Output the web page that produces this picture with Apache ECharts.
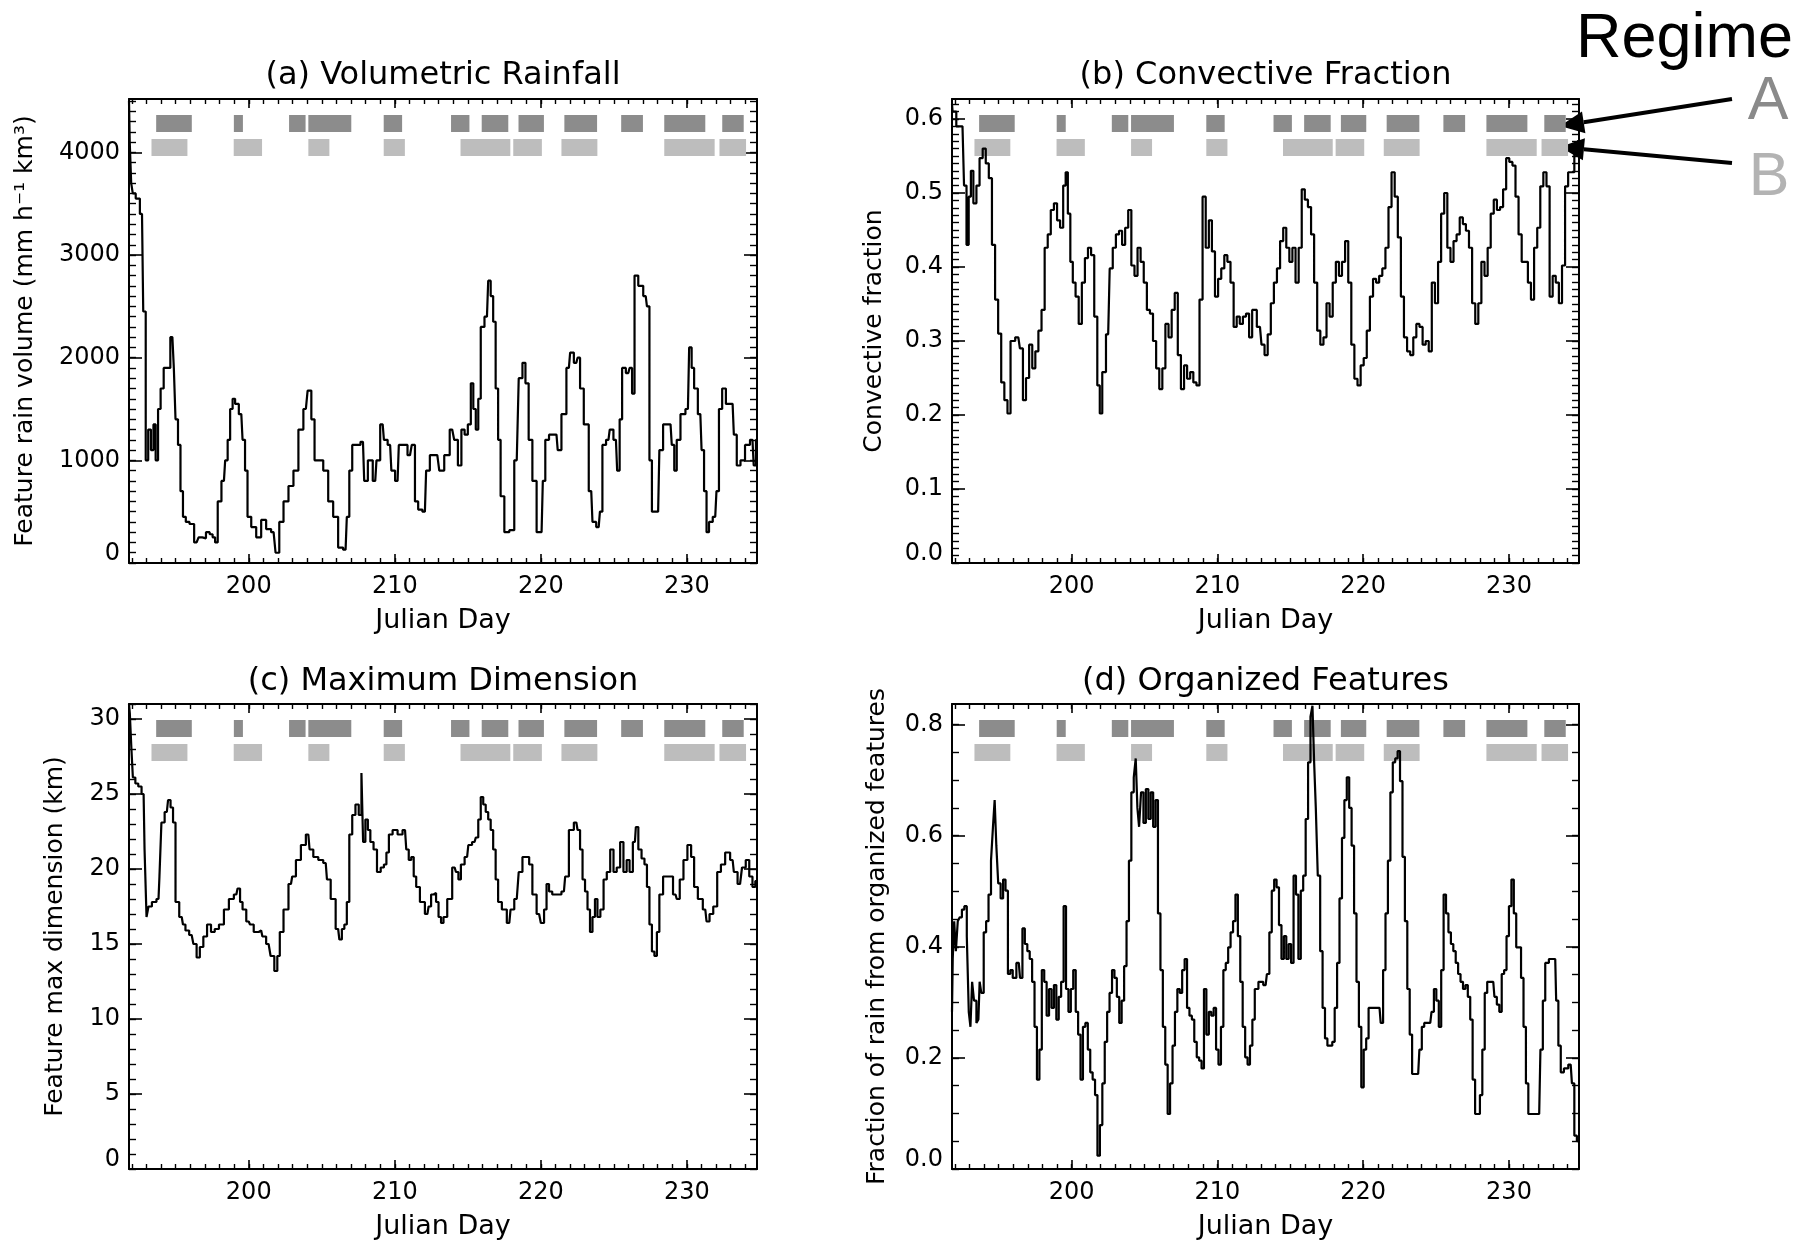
<!DOCTYPE html>
<html><head><meta charset="utf-8">
<script src="https://cdn.jsdelivr.net/npm/echarts@6/dist/echarts.min.js"></script>
<style>html,body{margin:0;padding:0;background:#fff;}#c{width:1810px;height:1242px;}</style>
</head><body><div id="c"></div>
<script>
// ---------------- DATA ----------------
const rainDays = [
191.8,191.9,192.0,192.12,192.4,192.69,192.86,193.03,193.2,193.4,
193.55,193.7,193.88,194.05,194.3,194.56,194.7,194.84,194.9,195.07,
195.24,195.41,195.58,195.8,196.09,196.43,196.7,196.94,197.2,197.45,
197.6,197.79,197.96,198.3,198.47,198.64,198.81,198.98,199.15,199.49,
199.66,199.83,200.0,200.34,200.68,201.02,201.36,201.7,201.97,202.21,
202.55,202.89,203.23,203.57,203.91,204.15,204.42,204.59,204.93,205.27,
205.61,205.95,206.29,206.63,206.8,206.97,207.2,207.48,207.82,207.99,
208.32,208.66,208.83,209.17,209.34,209.68,209.85,210.19,210.36,210.7,
211.04,211.28,211.48,211.72,212.06,212.23,212.57,212.91,213.18,213.59,
213.93,214.2,214.44,214.68,214.88,215.12,215.29,215.46,215.63,215.8,
215.97,216.31,216.48,216.65,216.82,216.99,217.16,217.33,217.67,218.01,
218.35,218.62,218.86,219.03,219.3,219.54,219.88,220.05,220.22,220.39,
220.73,221.07,221.24,221.58,221.92,222.09,222.43,222.6,222.77,223.11,
223.45,223.62,223.96,224.13,224.3,224.63,224.8,225.14,225.31,225.48,
225.65,225.99,226.16,226.33,226.5,226.84,227.18,227.35,227.52,227.69,
228.03,228.2,228.54,228.88,229.05,229.22,229.39,229.73,230.07,230.24,
230.41,230.58,230.92,231.09,231.26,231.43,231.6,231.94,232.11,232.28,
232.55,232.79,233.13,233.3,233.53,233.81,234.15,234.49,234.66,234.8];
const rainVals = [
4500,4100,3700,3600,3550,3400,2450,1000,1300,1100,
1350,1000,1500,1700,1900,1900,2200,2200,1900,1400,
1150,700,450,400,380,200,250,240,300,280,
250,200,600,800,1000,1200,1500,1600,1550,1450,
1200,900,450,350,250,420,330,300,100,400,
600,750,900,1300,1500,1680,1400,1000,1000,900,
600,450,150,130,450,900,1150,1150,1180,800,
1000,800,1000,1350,1200,1150,900,800,1150,1150,
1050,1150,600,520,500,900,1050,1050,900,1050,
1300,1200,950,1300,1250,1350,1750,1500,1300,1600,
2300,2400,2750,2600,2350,1700,1200,650,300,320,
1000,1800,1950,1750,1200,800,300,300,800,1200,
1250,1250,1100,1450,1900,2050,1950,2000,1700,1350,
700,400,350,500,1150,1200,1300,1200,900,1400,
1900,1850,1900,1650,2800,2700,2600,2500,1000,500,
500,1100,1350,1350,1150,900,1200,1450,1500,2100,
1900,1700,1450,1100,700,300,400,450,700,1500,
1700,1550,1550,1250,950,1000,1150,1200,950,1200];

const convDays = [191.8,
191.88,192.31,192.52,192.73,192.86,193.03,193.16,193.37,193.58,193.80,
194.01,194.22,194.43,194.65,194.86,195.07,195.28,195.50,195.71,195.92,
196.35,196.56,196.77,196.98,197.20,197.41,197.62,197.83,198.05,198.26,
198.47,198.68,198.90,199.11,199.32,199.53,199.66,199.83,200.00,200.17,
200.38,200.60,200.81,201.02,201.23,201.45,201.66,201.87,202.00,202.21,
202.51,202.72,202.93,203.15,203.36,203.57,203.78,203.99,204.21,204.42,
204.63,204.84,205.06,205.27,205.48,205.69,205.91,206.12,206.33,206.54,
206.76,206.97,207.18,207.39,207.61,207.82,208.03,208.24,208.46,208.67,
208.88,209.09,209.31,209.52,209.73,209.94,210.16,210.37,210.58,210.79,
211.01,211.22,211.43,211.64,211.86,212.07,212.28,212.49,212.92,213.13,
213.34,213.56,213.77,213.98,214.19,214.41,214.62,214.83,215.04,215.25,
215.47,215.68,215.89,216.10,216.32,216.53,216.74,216.95,217.17,217.38,
217.59,217.80,218.02,218.23,218.44,218.65,218.87,219.08,219.29,219.50,
219.72,219.93,220.14,220.35,220.57,220.78,220.99,221.20,221.42,221.63,
221.84,222.05,222.27,222.48,222.69,222.90,223.12,223.33,223.54,223.75,
223.97,224.18,224.39,224.60,224.81,225.03,225.24,225.45,225.66,225.88,
226.09,226.30,226.51,226.73,226.94,227.15,227.36,227.58,227.79,228.00,
228.21,228.43,228.64,228.85,229.06,229.28,229.49,229.70,229.91,230.13,
230.34,230.55,230.76,230.98,231.19,231.40,231.61,231.83,232.04,232.25,
232.46,232.68,232.89,233.10,233.31,233.53,233.74,233.95,234.16,234.37,
234.59,234.80];
const convVals = [0.62,
0.61,0.59,0.59,0.51,0.43,0.495,0.53,0.486,0.51,0.547,
0.56,0.54,0.52,0.43,0.356,0.31,0.244,0.22,0.202,0.30,
0.305,0.29,0.22,0.25,0.295,0.263,0.286,0.314,0.342,0.426,
0.444,0.477,0.486,0.463,0.453,0.51,0.528,0.472,0.407,0.379,
0.36,0.323,0.379,0.412,0.426,0.416,0.333,0.24,0.202,0.258,
0.309,0.398,0.426,0.444,0.449,0.43,0.453,0.477,0.402,0.388,
0.426,0.407,0.379,0.342,0.337,0.30,0.263,0.235,0.263,0.323,
0.305,0.342,0.365,0.281,0.235,0.267,0.249,0.258,0.244,0.24,
0.356,0.495,0.426,0.463,0.421,0.36,0.384,0.398,0.416,0.407,
0.379,0.319,0.333,0.323,0.333,0.337,0.305,0.342,0.319,0.295,
0.281,0.309,0.351,0.379,0.398,0.435,0.453,0.426,0.407,0.426,
0.379,0.426,0.505,0.491,0.481,0.444,0.379,0.314,0.295,0.305,
0.351,0.333,0.379,0.407,0.388,0.407,0.435,0.379,0.295,0.249,
0.24,0.267,0.277,0.314,0.36,0.384,0.379,0.388,0.398,0.426,
0.481,0.528,0.495,0.44,0.36,0.305,0.286,0.281,0.305,0.323,
0.319,0.295,0.30,0.286,0.379,0.351,0.407,0.472,0.50,0.426,
0.407,0.435,0.444,0.467,0.458,0.449,0.426,0.351,0.323,0.351,
0.407,0.388,0.426,0.472,0.491,0.477,0.481,0.505,0.547,0.542,
0.537,0.495,0.444,0.407,0.407,0.379,0.356,0.426,0.453,0.509,
0.528,0.509,0.36,0.388,0.379,0.351,0.402,0.509,0.528,0.528,
0.565,0.57];

const dimDays = [191.8,
191.91,192.01,192.12,192.35,192.52,192.80,192.93,193.07,193.20,193.54,
193.82,193.95,194.09,194.39,194.56,194.73,194.90,195.07,195.41,195.58,
195.75,196.09,196.33,196.53,196.77,197.01,197.28,197.55,197.79,198.13,
198.47,198.81,199.15,199.32,199.49,199.66,200.00,200.17,200.51,200.85,
201.02,201.36,201.63,201.87,202.04,202.21,202.55,202.89,203.06,203.40,
203.74,204.08,204.25,204.59,204.93,205.27,205.44,205.78,206.12,206.29,
206.46,206.63,206.80,206.97,207.20,207.41,207.65,207.78,207.88,208.09,
208.22,208.43,208.66,208.90,209.17,209.34,209.51,209.68,210.02,210.36,
210.70,210.87,211.04,211.21,211.38,211.55,211.89,212.23,212.40,212.57,
212.74,212.91,213.08,213.25,213.42,213.76,214.10,214.27,214.44,214.61,
214.95,215.12,215.46,215.63,215.80,215.97,216.14,216.31,216.48,216.65,
216.82,216.99,217.16,217.50,217.84,218.01,218.35,218.62,218.86,219.10,
219.30,219.54,219.88,220.12,220.32,220.46,220.66,220.90,221.24,221.58,
221.75,222.09,222.43,222.60,222.77,222.94,223.11,223.28,223.45,223.62,
223.79,223.96,224.19,224.40,224.63,224.87,225.08,225.31,225.55,225.76,
225.99,226.16,226.44,226.57,226.78,227.01,227.18,227.35,227.52,227.69,
227.86,228.03,228.20,228.54,228.88,229.22,229.39,229.63,229.90,230.17,
230.41,230.58,230.92,231.26,231.43,231.67,231.94,232.21,232.45,232.79,
233.13,233.30,233.64,233.91,234.15,234.39,234.59,234.78];
const dimVals = [31.0,
30.4,28.1,26.1,25.7,25.5,25.0,21.3,16.8,17.5,17.8,
18.0,19.5,23.1,23.8,24.6,24.1,23.1,17.8,16.8,16.3,
15.9,15.6,15.0,14.1,14.8,15.5,16.3,15.8,16.0,16.3,
17.3,18.0,18.3,18.7,17.8,17.3,16.5,16.3,15.8,15.9,
15.5,15.0,14.2,13.2,14.2,15.8,17.3,19.0,19.5,20.6,
21.6,22.3,21.3,20.8,20.6,20.4,19.3,18.0,16.0,15.3,
16.0,16.3,17.8,22.3,23.6,24.3,23.6,26.4,21.8,23.3,
22.6,21.8,21.3,19.8,20.1,20.3,21.1,22.3,22.6,22.3,
22.6,21.3,20.6,20.8,19.5,18.8,17.8,17.0,17.5,18.3,
18.4,17.8,16.8,16.4,16.8,18.0,20.1,19.8,19.3,20.3,
20.8,21.6,21.8,22.1,23.3,24.8,24.3,23.8,23.3,22.6,
21.3,19.3,17.8,17.3,16.4,17.3,18.0,19.8,20.8,20.8,
20.3,18.3,17.0,16.4,17.3,19.0,18.5,18.3,18.3,18.5,
19.5,22.6,23.1,22.6,21.3,19.3,18.5,17.3,15.8,16.8,
18.0,16.8,17.3,19.3,19.8,21.3,19.8,20.1,21.8,19.8,
20.6,19.8,21.8,22.8,21.3,20.7,20.3,18.8,16.3,14.5,
14.2,15.8,18.3,19.5,19.5,18.3,18.0,19.3,20.6,21.6,
20.8,18.8,18.0,17.3,16.5,17.0,17.5,19.8,20.3,21.1,
20.6,19.8,19.0,20.1,20.6,19.5,18.8,19.2];

const orgDays = [
191.80,191.90,192.00,192.13,192.26,192.40,192.56,192.73,192.90,193.00,
193.13,193.23,193.39,193.56,193.66,193.73,193.89,194.06,194.22,194.39,
194.56,194.66,194.79,194.89,195.05,195.22,195.39,195.55,195.72,195.88,
196.05,196.38,196.55,196.71,196.88,197.05,197.21,197.38,197.54,197.71,
197.88,198.04,198.21,198.37,198.54,198.71,198.87,199.04,199.20,199.37,
199.54,199.70,199.87,200.03,200.20,200.37,200.53,200.70,200.86,201.03,
201.20,201.36,201.53,201.69,201.86,202.03,202.19,202.36,202.52,202.69,
202.86,203.02,203.19,203.35,203.52,203.69,203.85,204.02,204.18,204.35,
204.45,204.58,204.68,204.85,205.01,205.18,205.35,205.51,205.68,205.84,
206.01,206.18,206.34,206.51,206.67,206.84,207.01,207.17,207.34,207.50,
207.67,207.84,208.00,208.17,208.33,208.50,208.67,208.83,209.00,209.16,
209.33,209.50,209.66,209.83,209.99,210.16,210.33,210.49,210.66,210.82,
210.99,211.16,211.32,211.49,211.65,211.82,211.99,212.15,212.32,212.48,
212.65,212.98,213.31,213.48,213.65,213.81,213.98,214.14,214.31,214.48,
214.64,214.81,214.97,215.14,215.31,215.47,215.64,215.80,215.97,216.14,
216.30,216.47,216.57,216.70,216.80,216.97,217.13,217.30,217.46,217.63,
217.80,217.96,218.13,218.29,218.46,218.63,218.79,218.96,219.12,219.29,
219.46,219.62,219.79,219.95,220.12,220.29,220.45,220.78,221.12,221.28,
221.45,221.61,221.78,221.95,222.11,222.28,222.44,222.61,222.78,222.94,
223.11,223.27,223.44,223.77,223.94,224.10,224.27,224.60,224.77,224.93,
225.10,225.27,225.43,225.60,225.76,225.93,226.10,226.26,226.43,226.59,
226.76,226.93,227.09,227.26,227.42,227.59,227.76,227.92,228.09,228.25,
228.42,228.59,228.92,229.08,229.25,229.42,229.58,229.75,229.91,230.08,
230.25,230.41,230.58,230.74,230.91,231.08,231.24,231.41,232.07,232.24,
232.40,232.57,232.90,233.17,233.30,233.47,233.63,233.90,234.23,234.40,
234.56,234.75];
const orgVals = [
0.283,0.378,0.446,0.392,0.446,0.453,0.467,0.473,0.419,0.283,
0.256,0.337,0.303,0.263,0.269,0.337,0.317,0.426,0.446,0.494,
0.555,0.616,0.664,0.582,0.514,0.487,0.521,0.501,0.351,0.358,
0.344,0.371,0.344,0.433,0.405,0.392,0.378,0.337,0.256,0.161,
0.215,0.358,0.337,0.276,0.324,0.290,0.331,0.269,0.310,0.337,
0.473,0.324,0.283,0.324,0.358,0.283,0.242,0.161,0.256,0.263,
0.215,0.174,0.161,0.133,0.024,0.079,0.154,0.229,0.283,0.317,
0.358,0.344,0.310,0.263,0.303,0.365,0.446,0.555,0.678,0.705,
0.739,0.650,0.616,0.678,0.623,0.684,0.630,0.678,0.616,0.664,
0.460,0.358,0.256,0.188,0.099,0.154,0.222,0.283,0.324,0.317,
0.358,0.378,0.290,0.276,0.269,0.229,0.201,0.195,0.181,0.324,
0.242,0.283,0.276,0.290,0.215,0.188,0.256,0.358,0.371,0.399,
0.426,0.446,0.494,0.419,0.337,0.256,0.201,0.188,0.222,0.269,
0.324,0.337,0.331,0.351,0.426,0.501,0.521,0.507,0.439,0.378,
0.419,0.378,0.405,0.371,0.528,0.494,0.378,0.501,0.528,0.630,
0.732,0.814,0.834,0.732,0.650,0.528,0.392,0.290,0.235,0.222,
0.222,0.229,0.290,0.371,0.487,0.596,0.664,0.705,0.650,0.582,
0.460,0.337,0.256,0.147,0.215,0.235,0.290,0.290,0.290,0.263,
0.358,0.460,0.555,0.678,0.732,0.739,0.752,0.698,0.562,0.446,
0.324,0.242,0.171,0.171,0.215,0.256,0.263,0.263,0.283,0.324,
0.303,0.256,0.358,0.494,0.460,0.426,0.405,0.392,0.371,0.351,
0.337,0.324,0.331,0.310,0.269,0.161,0.099,0.099,0.133,0.215,
0.317,0.337,0.337,0.310,0.296,0.283,0.351,0.358,0.419,0.473,
0.521,0.460,0.399,0.399,0.344,0.256,0.154,0.099,0.099,0.215,
0.303,0.371,0.378,0.378,0.303,0.222,0.174,0.181,0.188,0.154,
0.06,0.05];

// regime periods [start day, end day]
const regimeA = [[193.66,196.10],[198.98,199.60],[202.76,203.89],[204.08,207.02],[209.24,210.50],[213.85,215.11],
  [215.95,217.77],[218.47,220.21],[221.61,223.85],[225.50,226.99],[228.45,231.26],[232.42,233.89]];
const regimeB = [[193.34,195.80],[198.97,200.91],[204.08,205.52],[209.24,210.69],[214.50,217.91],[218.11,220.07],
  [221.41,223.87],[228.45,231.90],[232.23,234.05]];

const xTickLabels = [200,210,220,230];
const yTicksA = [0,1000,2000,3000,4000];
const yTicksB = [0,0.1,0.2,0.3,0.4,0.5,0.6];
const yTicksC = [0,5,10,15,20,25,30];
const yTicksD = [0,0.2,0.4,0.6,0.8];
const panelTitles = ['(a) Volumetric Rainfall','(b) Convective Fraction','(c) Maximum Dimension','(d) Organized Features'];
const yNames = ['Feature rain volume (mm h\u207B\u00B9 km\u00B3)','Convective fraction','Feature max dimension (km)','Fraction of rain from organized features'];
const xName = 'Julian Day';

// ---------------- LAYOUT ----------------
const FONT = 'DejaVu Sans';
const X_MIN = 191.8, X_MAX = 234.8;
const xMinor = []; for (let d = 192; d <= 234; d++) xMinor.push(d);
function minorList(max, step){ const r=[]; for(let k=0;k*step<=max+1e-9;k++) r.push(+(k*step).toFixed(4)); return r; }

const panels = [
  {days:rainDays, vals:rainVals, yMax:4520, ticks:yTicksA, step:100, dec:0, grid:{left:129,top:99,width:628,height:464}, nameGap:91, titleGap:7},
  {days:convDays, vals:convVals, yMax:0.627, ticks:yTicksB, step:0.01, dec:1, grid:{left:952,top:99,width:627,height:464}, nameGap:65, titleGap:7},
  {days:dimDays, vals:dimVals, yMax:31, ticks:yTicksC, step:1, dec:0, grid:{left:129,top:704,width:628,height:465}, nameGap:61, titleGap:6},
  {days:orgDays, vals:orgVals, yMax:0.837, ticks:yTicksD, step:0.05, dec:1, grid:{left:952,top:704,width:627,height:465}, nameGap:62, titleGap:6}
];

const black = '#000';
const grids=[], xAxes=[], yAxes=[], series=[];
const regimeRows = regimeA.map(r=>[r[0],r[1],0]).concat(regimeB.map(r=>[r[0],r[1],1]));

panels.forEach((p,i)=>{
  grids.push(Object.assign({containLabel:false}, p.grid));
  const fmt = v => (+v).toFixed(p.dec);
  const lab = {color:black,fontSize:24,fontFamily:FONT};
  const base = {gridIndex:i,type:'value',min:X_MIN,max:X_MAX,splitLine:{show:false}};
  xAxes.push(Object.assign({}, base, {position:'bottom',
    axisLine:{show:true,onZero:false,lineStyle:{color:black,width:2}},
    axisTick:{show:true,inside:true,length:9,customValues:xTickLabels,lineStyle:{color:black,width:1.6}},
    axisLabel:Object.assign({show:true,customValues:xTickLabels,margin:12},lab),
    name:xName,nameLocation:'middle',nameGap:44,nameTextStyle:{color:black,fontSize:27,fontFamily:FONT}}));
  xAxes.push(Object.assign({}, base, {position:'bottom',axisLine:{show:false,onZero:false},
    axisTick:{show:true,inside:true,length:5,customValues:xMinor,lineStyle:{color:black,width:1.4}},axisLabel:{show:false}}));
  xAxes.push(Object.assign({}, base, {position:'top',
    axisLine:{show:true,onZero:false,lineStyle:{color:black,width:2}},
    axisTick:{show:true,inside:true,length:9,customValues:xTickLabels,lineStyle:{color:black,width:1.6}},
    axisLabel:{show:false},
    name:panelTitles[i],nameLocation:'middle',nameGap:p.titleGap,nameTextStyle:{color:black,fontSize:32,fontFamily:FONT}}));
  xAxes.push(Object.assign({}, base, {position:'top',axisLine:{show:false,onZero:false},
    axisTick:{show:true,inside:true,length:5,customValues:xMinor,lineStyle:{color:black,width:1.4}},axisLabel:{show:false}}));

  const ybase = {gridIndex:i,type:'value',min:0,max:p.yMax,splitLine:{show:false}};
  const minors = minorList(p.yMax, p.step);
  yAxes.push(Object.assign({}, ybase, {position:'left',
    axisLine:{show:true,onZero:false,lineStyle:{color:black,width:2}},
    axisTick:{show:true,inside:true,length:13,customValues:p.ticks,lineStyle:{color:black,width:1.6}},
    axisLabel:Object.assign({show:true,customValues:p.ticks.slice(1),margin:9,formatter:fmt},lab),
    name:yNames[i],nameLocation:'middle',nameGap:p.nameGap,nameTextStyle:{color:black,fontSize:25,fontFamily:FONT}}));
  yAxes.push(Object.assign({}, ybase, {position:'left',axisLine:{show:false,onZero:false},
    axisTick:{show:true,inside:true,length:7,customValues:minors,lineStyle:{color:black,width:1.4}},
    axisLabel:Object.assign({show:true,customValues:[p.ticks[0]],margin:9,formatter:fmt,verticalAlign:'bottom',lineHeight:18},lab)}));
  yAxes.push(Object.assign({}, ybase, {position:'right',
    axisLine:{show:true,onZero:false,lineStyle:{color:black,width:2}},
    axisTick:{show:true,inside:true,length:13,customValues:p.ticks,lineStyle:{color:black,width:1.6}},
    axisLabel:{show:false}}));
  yAxes.push(Object.assign({}, ybase, {position:'right',axisLine:{show:false,onZero:false},
    axisTick:{show:true,inside:true,length:7,customValues:minors,lineStyle:{color:black,width:1.4}},
    axisLabel:{show:false}}));

  series.push({type:'custom',xAxisIndex:4*i,yAxisIndex:4*i,data:regimeRows,encode:{x:[0,1],y:2},z:2,clip:false,
    renderItem:function(params,api){
      const x0 = api.coord([api.value(0),0])[0];
      const x1 = api.coord([api.value(1),0])[0];
      const row = api.value(2);
      const cs = params.coordSys;
      return {type:'rect',shape:{x:x0,y:cs.y+(row===0?16:40),width:x1-x0,height:17},
        style:{fill: row===0?'#8c8c8c':'#bdbdbd'}};
    }});
  series.push({type:'line',xAxisIndex:4*i,yAxisIndex:4*i,data:p.days.map((d,k)=>[d,p.vals[k]]),
    step:'middle',showSymbol:false,symbol:'none',lineStyle:{color:black,width:2.2},clip:true,z:5});
});

function arrow(x1,y1,x2,y2){
  const a=Math.atan2(y2-y1,x2-x1), L=24, W=11;
  const bx=x2-L*Math.cos(a), by=y2-L*Math.sin(a), px=-Math.sin(a), py=Math.cos(a);
  return [{type:'line',shape:{x1:x1,y1:y1,x2:bx,y2:by},style:{stroke:black,lineWidth:4}},
          {type:'polygon',shape:{points:[[x2,y2],[bx+px*W,by+py*W],[bx-px*W,by-py*W]]},style:{fill:black}}];
}
const graphics = [
  {type:'text',x:1793,y:40,style:{text:'Regime',fill:black,fontSize:63,fontFamily:'Liberation Sans',align:'right',verticalAlign:'middle'}},
  {type:'text',x:1768,y:102,style:{text:'A',fill:'#8a8a8a',fontSize:61,fontFamily:'Liberation Sans',align:'center',verticalAlign:'middle'}},
  {type:'text',x:1769,y:178,style:{text:'B',fill:'#b3b3b3',fontSize:61,fontFamily:'Liberation Sans',align:'center',verticalAlign:'middle'}}
].concat(arrow(1732,99,1560,126), arrow(1732,163,1560,147));

const chart = echarts.init(document.getElementById('c'), null, {renderer:'canvas'});
chart.setOption({animation:false,backgroundColor:'#fff',grid:grids,xAxis:xAxes,yAxis:yAxes,series:series,graphic:graphics});
</script></body></html>
